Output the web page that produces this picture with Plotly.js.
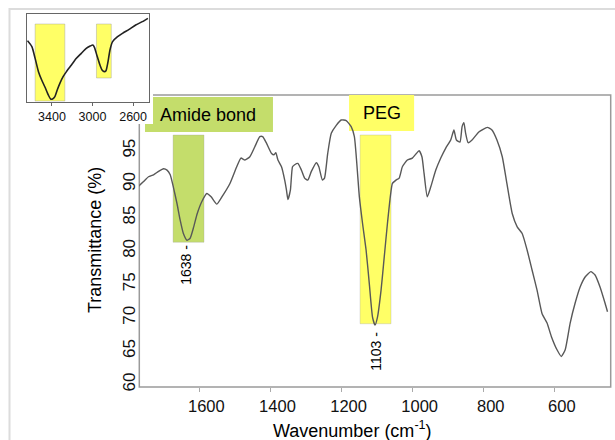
<!DOCTYPE html>
<html>
<head>
<meta charset="utf-8">
<script src="https://cdn.plot.ly/plotly-3.0.1.min.js"></script>
<style>html,body{margin:0;padding:0;background:#fff;}#chart{width:615px;height:440px;}</style>
</head>
<body>
<div id="chart"></div>
<script>
// Main FTIR spectrum (wavenumber in cm-1, transmittance in %)
const mainWavenumber = [1771,1757,1743,1729,1715,1701,1691,1682,1673,1663,1654,1645,1635,1626,1617,1606,1593,1579,1567,1551,1533,1514,1495,1483,1472,1458,1444,1430,1422,1411,1397,1390,1385,1379,1369,1360,1355,1351,1344,1338,1332,1323,1313,1304,1295,1285,1271,1264,1254,1248,1239,1229,1215,1201,1187,1173,1164,1150,1141,1131,1122,1113,1106,1099,1089,1080,1071,1063,1057,1047,1038,1029,1015,1001,991,982,974,968,959,949,935,921,907,893,884,877,867,861,856,851,844,833,814,790,777,763,748,735,720,706,692,678,664,650,636,622,610,594,582,571,557,543,529,515,499,487,473,459,452];
const mainTransmittance = [89.7,90.4,91.1,91.4,91.9,92.3,92.1,91.4,89.5,87.1,84.6,82.6,81.6,81.9,83.4,85.6,87.4,88.6,88.1,87.0,88.4,90.1,92.6,93.9,93.6,94.1,95.6,97.1,97.1,96.1,94.6,94.4,94.7,93.6,92.6,90.6,89.1,87.7,89.1,92.6,92.9,93.1,92.1,90.9,90.6,91.9,93.2,92.6,90.6,90.9,94.6,97.6,98.8,99.6,99.5,98.6,97.1,88.1,84.1,80.1,75.1,70.1,68.9,70.1,74.1,79.1,84.1,88.1,90.1,90.6,90.9,92.6,93.6,93.9,94.5,95.0,94.1,91.6,88.1,89.6,92.1,93.9,95.4,96.6,98.1,96.6,96.3,98.6,99.2,97.6,96.2,96.6,97.8,98.5,98.1,96.6,94.1,90.1,85.6,83.6,82.6,80.1,77.1,74.1,70.6,69.2,67.2,65.2,64.2,65.2,69.2,72.2,74.6,76.1,76.9,76.4,74.6,72.2,70.9];

// Inset: high-wavenumber region (relative transmittance, no scale shown)
const insetWavenumber = [3641,3598,3566,3533,3501,3468,3436,3413,3394,3371,3348,3322,3290,3257,3208,3159,3111,3062,3023,2997,2981,2958,2932,2906,2883,2867,2847,2828,2802,2753,2704,2639,2574,2509,2454];
const insetTransmittance = [69.7,62.9,49.6,34.5,25.0,16.7,8.0,3.4,3.4,6.1,13.6,21.2,28.8,34.5,42.0,49.6,55.3,61.0,63.6,64.8,62.1,53.4,43.9,36.4,34.5,35.6,45.8,59.1,68.6,74.2,78.0,82.6,87.5,91.3,95.1];

// Tick labels
const mainXTicks = [1600,1400,1200,1000,800,600];
const mainYTicks = [60,65,70,75,80,85,90,95];
const insetXTicks = [3400,3000,2600];

// Highlighted bands: [x0, x1, y0, y1]
const amideBand = [1674,1587,81.3,97.35];
const pegBand = [1148,1061,69.1,97.35];
const insetBands = [[3566,3273,1.1,88.6],[2961,2815,27.3,88.6]];

// Peak labels
const peakLabels = ['1638','1103'];
const peakPositions = [1638,1103];
const peakLabelY = [77.9,64.9];

const FONT = 'Arial, "Liberation Sans", sans-serif';
const GREEN = '#c4dd6b';
const YELLOW = '#ffff66';

const traces = [
  {x: mainWavenumber, y: mainTransmittance, type:'scatter', mode:'lines',
   line:{color:'#585858', width:1.4, shape:'spline', smoothing:0.5},
   xaxis:'x', yaxis:'y', hoverinfo:'skip', showlegend:false},
  {x: insetWavenumber, y: insetTransmittance, type:'scatter', mode:'lines',
   line:{color:'#222', width:1.6, shape:'spline', smoothing:0.6},
   xaxis:'x2', yaxis:'y2', hoverinfo:'skip', showlegend:false}
];

const shapes = [
  // outer light frame
  {type:'rect', xref:'paper', yref:'paper', x0:9.5/615, x1:1.2, y0:-0.2, y1:1-9/440,
   line:{color:'#dcdcdc', width:2}, fillcolor:'rgba(0,0,0,0)', layer:'below'},
  // main plot frame (left top corner hidden by inset area)
  {type:'path', xref:'x domain', yref:'y domain', path:'M 0,0.901 L 0,0 L 1,0 L 1,1 L 0.029,1',
   line:{color:'#9a9a9a', width:1.5}, layer:'below'},
  // "Amide bond" label box
  {type:'path', xref:'x', yref:'y', path:'M 1753,99.0 L 1730.5,99.0 L 1730.5,103.04 L 1393,103.04 L 1393,97.8 L 1753,97.8 Z',
   fillcolor:GREEN, line:{width:0}, layer:'below'},
  // "PEG" label box
  {type:'rect', xref:'x', yref:'y', x0:1179, x1:996, y0:97.95, y1:103.34,
   fillcolor:YELLOW, line:{width:0}, layer:'below'},
  // bands
  {type:'rect', xref:'x', yref:'y', x0:amideBand[0], x1:amideBand[1], y0:amideBand[2], y1:amideBand[3],
   fillcolor:GREEN, line:{color:'rgba(160,160,160,0.4)', width:0.8}, layer:'below'},
  {type:'rect', xref:'x', yref:'y', x0:pegBand[0], x1:pegBand[1], y0:pegBand[2], y1:pegBand[3],
   fillcolor:YELLOW, line:{color:'rgba(160,160,160,0.4)', width:0.8}, layer:'below'}
];
insetBands.forEach(b => shapes.push({type:'rect', xref:'x2', yref:'y2', x0:b[0], x1:b[1], y0:b[2], y1:b[3],
  fillcolor:YELLOW, line:{color:'rgba(150,150,150,0.5)', width:0.8}, layer:'below'}));

const annotations = [
  {text:'Amide bond', xref:'x', yref:'y', x:1576, y:100.4, showarrow:false,
   font:{family:FONT, size:18, color:'#000'}, xanchor:'center', yanchor:'middle'},
  {text:'PEG', xref:'x', yref:'y', x:1086, y:100.6, showarrow:false,
   font:{family:FONT, size:18, color:'#000'}, xanchor:'center', yanchor:'middle'},
  {text:'Wavenumber (cm<sup>-1</sup>)', xref:'paper', yref:'paper', x:352/615, y:1-429/440, showarrow:false,
   font:{family:FONT, size:18, color:'#000'}, xanchor:'center', yanchor:'middle'},
  {text:'Transmittance (%)', xref:'paper', yref:'paper', x:95/615, y:1-240/440, showarrow:false, textangle:-90,
   font:{family:FONT, size:18, color:'#000'}, xanchor:'center', yanchor:'middle'}
];
peakLabels.forEach((t,i) => annotations.push({text:t+' -', xref:'x', yref:'y', x:peakPositions[i], y:peakLabelY[i],
  showarrow:false, textangle:-90, font:{family:FONT, size:14, color:'#000'}, xanchor:'center', yanchor:'middle'}));

const layout = {
  width:615, height:440,
  margin:{l:0, r:0, t:0, b:0},
  paper_bgcolor:'#fff', plot_bgcolor:'rgba(0,0,0,0)',
  showlegend:false,
  xaxis:{domain:[139.3/615, 610.7/615], range:[1769,443], showgrid:false, zeroline:false, showline:false,
    tickmode:'array', tickvals:mainXTicks, ticktext:mainXTicks.map(String),
    ticks:'outside', ticklen:4, tickcolor:'#aaa', tickwidth:1, ticklabelshift:-7,
    tickfont:{family:FONT, size:16.5, color:'#111'}, anchor:'y'},
  yaxis:{domain:[1-387/440, 1-95/440], range:[59.63,103.34], showgrid:false, zeroline:false, showline:false,
    tickmode:'array', tickvals:mainYTicks, ticktext:mainYTicks.map(String), ticks:'', tickangle:-90,
    tickfont:{family:FONT, size:17, color:'#111'}, anchor:'x'},
  xaxis2:{domain:[27/615, 149/615], range:[3646,2443], showgrid:false, zeroline:false,
    showline:true, mirror:true, linecolor:'#666', linewidth:1.2,
    tickmode:'array', tickvals:insetXTicks, ticktext:insetXTicks.map(String),
    ticks:'outside', ticklen:3, tickcolor:'#666',
    tickfont:{family:FONT, size:12.5, color:'#111'}, anchor:'y2'},
  yaxis2:{domain:[1-102/440, 1-14/440], range:[0,100], showgrid:false, zeroline:false,
    showline:true, mirror:true, linecolor:'#666', linewidth:1.2, showticklabels:false, ticks:'', anchor:'x2'},
  shapes: shapes,
  annotations: annotations
};

Plotly.newPlot('chart', traces, layout, {staticPlot:true, displayModeBar:false});
</script>
</body>
</html>
